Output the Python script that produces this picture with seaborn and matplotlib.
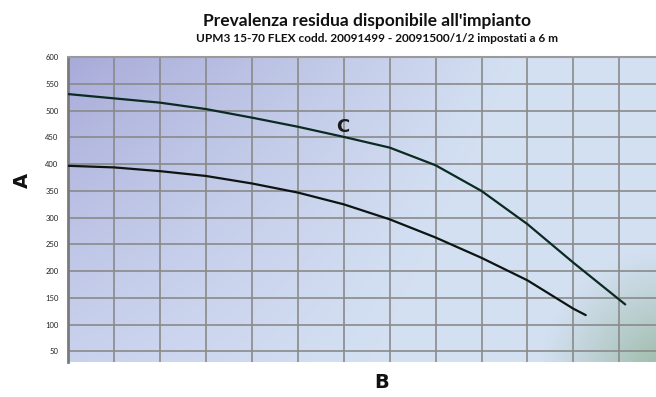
import numpy as np
import pandas as pd
import matplotlib
matplotlib.use("Agg")
import matplotlib.pyplot as plt
import seaborn as sns

sns.set_theme(style="white")
plt.rcParams["font.family"] = ["Lato", "DejaVu Sans"]

# curve C (upper) and lower curve
flow_c = [0, 1, 2, 3, 4, 5, 6, 7, 8, 9, 10, 11, 12.13]
head_c = [531, 523, 515, 503, 487, 470, 451, 431, 398, 350, 288, 216, 138]
flow_low = [0, 1, 2, 3, 4, 5, 6, 7, 8, 9, 10, 11, 11.27]
head_low = [397, 394, 387, 378, 364, 347, 325, 297, 263, 225, 183, 130, 118]
y_ticks = list(range(50, 601, 50))
x_grid = list(range(0, 13))

title = "Prevalenza residua disponibile all'impianto"
subtitle = "UPM3 15-70 FLEX codd. 20091499 - 20091500/1/2 impostati a 6 m"

df_c = pd.DataFrame({"flow": flow_c, "head": head_c})
df_low = pd.DataFrame({"flow": flow_low, "head": head_low})

fig = plt.figure(figsize=(6.56, 3.97), dpi=100)
ax = fig.add_axes([0.104, 0.089, 0.896, 0.767])

# background gradient (purple top-left -> light blue right, green corner)
h, w = 200, 400
yy, xx = np.mgrid[0:1:h * 1j, 0:1:w * 1j]
c_tl = np.array([0.66, 0.67, 0.85])
c_bl = np.array([0.77, 0.80, 0.92])
c_r = np.array([0.83, 0.88, 0.95])
left = c_tl[None, None, :] * (1 - yy[..., None]) + c_bl[None, None, :] * yy[..., None]
t = np.clip(xx * 1.3 + yy * 0.3, 0, 1)[..., None]
img = left * (1 - t) + c_r[None, None, :] * t
d = np.sqrt(((xx - 1.02) * 2.7) ** 2 + ((yy - 1.05) * 1.4) ** 2)
g = np.clip(1 - d / 0.6, 0, 1)[..., None] ** 1.1
img = img * (1 - g) + np.array([0.60, 0.72, 0.64])[None, None, :] * g
ax.imshow(img, extent=[0, 12.8, 31, 600], aspect="auto", origin="upper", zorder=0)

ax.set_xlim(0, 12.8)
ax.set_ylim(31, 600)

for x in x_grid:
    ax.axvline(x, color="#8a8a8a", lw=1.2, zorder=1)
for y in y_ticks:
    ax.axhline(y, color="#8a8a8a", lw=1.2, zorder=1)

sns.lineplot(data=df_c, x="flow", y="head", ax=ax, color="#0b2a22", lw=1.6,
             sort=False, estimator=None, zorder=3)
sns.lineplot(data=df_low, x="flow", y="head", ax=ax, color="#0d1512", lw=1.6,
             sort=False, estimator=None, zorder=3)

ax.text(5.97, 469, "C", fontsize=13, fontweight="bold", color="#1a1a1a",
        ha="center", va="center", zorder=4, family=["DejaVu Sans"])

ax.set_yticks(y_ticks)
ax.set_yticklabels([str(v) for v in y_ticks], fontsize=5.5, color="#222222")
ax.set_xticks([])
ax.tick_params(axis="y", length=0, pad=7)
ax.set_xlabel("")
ax.set_ylabel("")
for s in ["right", "bottom"]:
    ax.spines[s].set_visible(False)
ax.spines["left"].set_color("#7a7a7a")
ax.spines["left"].set_linewidth(2)
ax.spines["top"].set_color("#9a9a9a")
ax.spines["top"].set_linewidth(1.5)

fig.text(367 / 656, 1 - 21 / 397, title, ha="center", va="center",
         fontsize=12.5, fontweight="bold", color="#111111")
fig.text(377 / 656, 1 - 38 / 397, subtitle, ha="center", va="center",
         fontsize=8.6, fontweight="bold", color="#111111")
fig.text(22 / 656, 1 - 180 / 397, "A", rotation=90, ha="center", va="center",
         fontsize=14, fontweight="bold", color="#111111", family=["DejaVu Sans"])
fig.text(382 / 656, 1 - 383 / 397, "B", ha="center", va="center",
         fontsize=14, fontweight="bold", color="#111111", family=["DejaVu Sans"])

fig.savefig("out.png", dpi=100)
